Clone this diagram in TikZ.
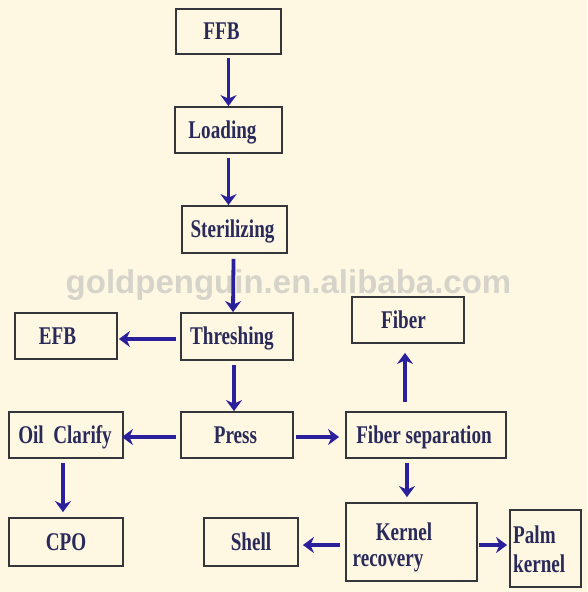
\documentclass[tikz,border=0pt]{standalone}
\usepackage{fontspec}
\setmainfont{Liberation Serif}
\newfontfamily\boxfont[FakeStretch=0.75]{Liberation Serif}
\newfontfamily\wmfont{Liberation Sans}
\usetikzlibrary{arrows.meta}
\definecolor{bgc}{HTML}{FEF8E2}
\definecolor{boxc}{HTML}{35353C}
\definecolor{txtc}{HTML}{2A2A5A}
\definecolor{arrc}{HTML}{2A209C}
\definecolor{wmc}{HTML}{D6D3CB}
\begin{document}
\begin{tikzpicture}[x=1pt,y=-1pt,
  box/.style={draw=boxc, line width=1.8pt, inner sep=0pt},
  lbl/.style={text=txtc, font=\boxfont\bfseries\fontsize{25.5}{26}\selectfont, inner sep=0pt, text height=16.9pt, text depth=0pt},
  wm/.style={text=wmc, font=\wmfont\bfseries\fontsize{33}{34}\selectfont, inner sep=0pt},
  arr/.style={draw=arrc, line width=3.8pt, -{Stealth[length=11pt,width=16pt,inset=3.5pt]}}]
\fill[bgc] (0,0) rectangle (587,592);
\useasboundingbox (0,0) rectangle (587,592);
\node[wm, anchor=base] (wmark) at (288.5,293) {goldpenguin.en.alibaba.com};

\node[box, minimum width=105pt, minimum height=45pt, label={[lbl,xshift=-7pt]center:FFB}] (FFB) at (228.5,31.5) {};
\node[box, minimum width=107pt, minimum height=46pt, label={[lbl,xshift=-6pt]center:Loading}] (Loading) at (228.5,130) {};
\node[box, minimum width=105pt, minimum height=47pt, label={[lbl,xshift=-2pt]center:Sterilizing}] (Sterilizing) at (234.5,229.5) {};
\node[box, minimum width=112pt, minimum height=47pt, label={[lbl,xshift=-5pt]center:Threshing}] (Threshing) at (237,336.5) {};
\node[box, minimum width=102pt, minimum height=46pt, label={[lbl,xshift=-8.5pt]center:EFB}] (EFB) at (66,336) {};
\node[box, minimum width=112pt, minimum height=46pt, label={[lbl,xshift=-4.5pt]center:Fiber}] (Fiber) at (408,320) {};
\node[box, minimum width=114pt, minimum height=46pt, label={[lbl,xshift=-1pt]center:Oil~~Clarify}] (OilClarify) at (66,435) {};
\node[box, minimum width=112pt, minimum height=46pt, label={[lbl,xshift=-1.5pt]center:Press}] (Press) at (237,435) {};
\node[box, minimum width=160pt, minimum height=46pt, label={[lbl,xshift=-2pt]center:Fiber separation}] (FiberSep) at (426,435) {};
\node[box, minimum width=114pt, minimum height=48pt, label={[lbl]center:CPO}] (CPO) at (66,542) {};
\node[box, minimum width=94pt, minimum height=48pt, label={[lbl]center:Shell}] (Shell) at (251,542) {};
\node[box, minimum width=131pt, minimum height=78pt] (Kernel) at (411.5,542) {};
\node[box, minimum width=71pt, minimum height=77pt] (Palm) at (545.5,548.5) {};
\node[lbl, anchor=base] (Kernelt1) at (404,540) {Kernel};
\node[lbl, anchor=base] (Kernelt2) at (388,566) {recovery};
\node[lbl, anchor=base west] (Palmt1) at (513,543) {Palm};
\node[lbl, anchor=base west] (Palmt2) at (513,572) {kernel};

\draw[arr] ([yshift=-3pt]FFB.south) -- (FFB.south |- Loading.north);
\draw[arr] ([yshift=-4pt]Loading.south) -- (Loading.south |- Sterilizing.north);
\draw[arr] ([xshift=-1pt,yshift=-5pt]Sterilizing.south) -- ([xshift=-4pt]Threshing.north);
\draw[arr] ([xshift=-3pt,yshift=-4pt]Threshing.south) -- ([xshift=-3pt]Press.north);
\draw[arr] ([xshift=-4pt,yshift=-2.5pt]Threshing.west) -- ([xshift=1pt,yshift=-3pt]EFB.east);
\draw[arr] ([xshift=-4pt,yshift=-2pt]Press.west) -- ([xshift=-2pt,yshift=-2pt]OilClarify.east);
\draw[arr] ([xshift=2pt,yshift=-2pt]Press.east) -- ([xshift=-6pt,yshift=-2pt]FiberSep.west);
\draw[arr] ([xshift=-3pt,yshift=-4pt]OilClarify.south) -- ([xshift=-3pt,yshift=5pt]CPO.north);
\draw[arr] ([xshift=-21pt,yshift=9pt]FiberSep.north) -- ([xshift=-3pt,yshift=-9pt]Fiber.south);
\draw[arr] ([xshift=-19pt,yshift=-4pt]FiberSep.south) -- ([xshift=-4.5pt,yshift=5pt]Kernel.north);
\draw[arr] ([xshift=-5pt,yshift=-3pt]Kernel.west) -- ([xshift=4pt,yshift=-3pt]Shell.east);
\draw[arr] ([xshift=1pt,yshift=-3pt]Kernel.east) -- ([xshift=-2pt,yshift=3.5pt]Palm.west);
\end{tikzpicture}
\end{document}
